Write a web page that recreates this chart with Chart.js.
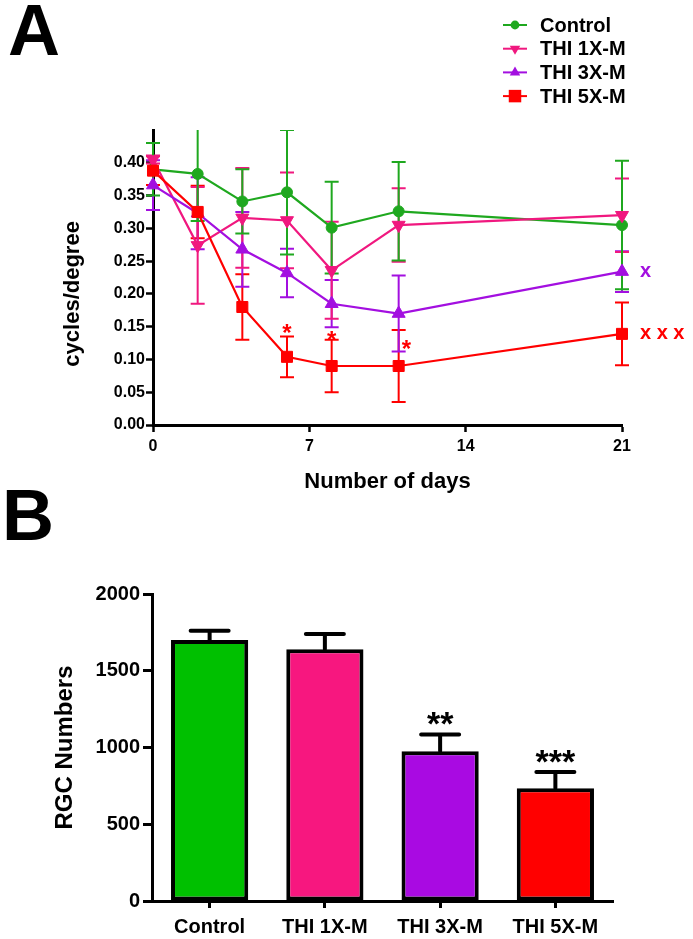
<!DOCTYPE html>
<html>
<head>
<meta charset="utf-8">
<script src="https://cdn.jsdelivr.net/npm/chart.js@4.4.1/dist/chart.umd.min.js"></script>
<style>
  body { margin: 0; background: #fff; width: 693px; height: 939px; position: relative; overflow: hidden; font-family: "Liberation Sans", Arial, sans-serif; }
  .panel { position: absolute; font-weight: bold; font-size: 72px; line-height: 1; color: #000; }
  #wrapA { position: absolute; left: 0; top: 0; width: 693px; height: 500px; }
  #wrapB { position: absolute; left: 0; top: 500px; width: 693px; height: 439px; }
</style>
</head>
<body>
<div id="wrapA"><canvas id="chartA" width="693" height="500"></canvas></div>
<div id="wrapB"><canvas id="chartB" width="693" height="439"></canvas></div>
<div class="panel" style="left:8px; top:-6px;">A</div>
<div class="panel" style="left:2px; top:479px;">B</div>
<script>
Chart.defaults.font.family = '"Liberation Sans", Arial, sans-serif';
Chart.defaults.color = '#000';

// painel A - acuidade visual por dia
const days = [0, 2, 4, 6, 8, 11, 21];
const groups = ['Control', 'THI 1X-M', 'THI 3X-M', 'THI 5X-M'];
const controlMean = [0.390, 0.383, 0.341, 0.355, 0.301, 0.326, 0.305];
const controlErr  = [0.040, 0.072, 0.049, 0.095, 0.070, 0.075, 0.098];
const thi1Mean = [0.405, 0.274, 0.316, 0.312, 0.236, 0.305, 0.320];
const thi1Err  = [0.006, 0.089, 0.076, 0.073, 0.074, 0.056, 0.056];
const thi3Mean = [0.366, 0.323, 0.268, 0.232, 0.185, 0.170, 0.234];
const thi3Err  = [0.038, 0.055, 0.057, 0.037, 0.036, 0.058, 0.031];
const thi5Mean = [0.388, 0.325, 0.180, 0.104, 0.090, 0.090, 0.139];
const thi5Err  = [0.022, 0.040, 0.050, 0.031, 0.040, 0.055, 0.048];
const yTicksA = [0, 0.05, 0.10, 0.15, 0.20, 0.25, 0.30, 0.35, 0.40];
const xTicksA = [0, 7, 14, 21];
// asteriscos vermelhos (dia, valor) e marcas no fim das linhas
const starsA = [[6, 0.149], [8, 0.139], [11.35, 0.125]];
const endMarks = ['', '', 'x', 'x x x'];

// painel B - contagem de RGC
const rgcMean = [1700, 1640, 975, 735];
const rgcErr  = [60, 100, 110, 105];
const rgcSig  = ['', '', '**', '***'];
const yTicksB = [0, 500, 1000, 1500, 2000];

const lineColors = ['#1fa81f', '#f0187f', '#a30fe0', '#ff0000'];
const barColors  = ['#00c000', '#f7177f', '#a90ae2', '#ff0000'];
const markers = [
  { style: 'circle', rot: 0, r: 5.5 },
  { style: 'triangle', rot: 180, r: 7.5 },
  { style: 'triangle', rot: 0, r: 7.5 },
  { style: 'rect', rot: 0, r: 7.8 }
];

const means = [controlMean, thi1Mean, thi3Mean, thi5Mean];
const errs = [controlErr, thi1Err, thi3Err, thi5Err];

function drawMarker(ctx, m, x, y, r, color) {
  ctx.fillStyle = color;
  ctx.beginPath();
  if (m.style === 'circle') {
    ctx.arc(x, y, r, 0, Math.PI * 2);
  } else if (m.style === 'rect') {
    ctx.rect(x - r, y - r, 2 * r, 2 * r);
  } else {
    const s = m.rot ? -1 : 1;
    ctx.moveTo(x, y - s * r);
    ctx.lineTo(x + r * 0.87, y + s * r * 0.5);
    ctx.lineTo(x - r * 0.87, y + s * r * 0.5);
    ctx.closePath();
  }
  ctx.fill();
}

// barras de erro do painel A
const errorBarsA = {
  id: 'errorBarsA',
  beforeDatasetsDraw(chart) {
    const { ctx, chartArea, scales: { x, y } } = chart;
    ctx.save();
    ctx.beginPath();
    ctx.rect(0, chartArea.top, chart.width, chartArea.bottom - chartArea.top + 2);
    ctx.clip();
    for (let i = chart.data.datasets.length - 1; i >= 0; i--) {
      const ds = chart.data.datasets[i];
      ctx.strokeStyle = ds.borderColor;
      ctx.lineWidth = 2;
      ds.data.forEach((pt, j) => {
        const px = x.getPixelForValue(pt.x);
        const top = y.getPixelForValue(pt.y + ds.errors[j]);
        const bot = y.getPixelForValue(pt.y - ds.errors[j]);
        ctx.beginPath();
        ctx.moveTo(px, top); ctx.lineTo(px, bot);
        ctx.moveTo(px - 7, top); ctx.lineTo(px + 7, top);
        ctx.moveTo(px - 7, bot); ctx.lineTo(px + 7, bot);
        ctx.stroke();
      });
    }
    ctx.restore();
  },
  afterDraw(chart) {
    const { ctx, scales: { x, y } } = chart;
    ctx.save();
    // titulo do eixo y centrado na faixa com ticks
    ctx.translate(73, (y.getPixelForValue(0) + y.getPixelForValue(0.40)) / 2);
    ctx.rotate(-Math.PI / 2);
    ctx.font = 'bold 22px "Liberation Sans", Arial, sans-serif';
    ctx.fillStyle = '#000';
    ctx.textAlign = 'center';
    ctx.textBaseline = 'middle';
    ctx.fillText('cycles/degree', 0, 0);
    ctx.restore();

    ctx.save();
    ctx.font = 'bold 24px "Liberation Sans", Arial, sans-serif';
    ctx.fillStyle = lineColors[3];
    ctx.textAlign = 'center';
    ctx.textBaseline = 'alphabetic';
    starsA.forEach(s => {
      ctx.fillText('*', x.getPixelForValue(s[0]), y.getPixelForValue(s[1]) + 0.575 * 24);
    });
    // marcas ao lado do ultimo ponto
    ctx.font = 'bold 20px "Liberation Sans", Arial, sans-serif';
    ctx.textAlign = 'left';
    endMarks.forEach((t, i) => {
      if (!t) return;
      const last = days.length - 1;
      ctx.fillStyle = lineColors[i];
      ctx.fillText(t, x.getPixelForValue(days[last]) + 18, y.getPixelForValue(means[i][last]) + 5);
    });
    ctx.restore();

    // legenda
    ctx.save();
    groups.forEach((g, i) => {
      const cy = 25 + i * 23.7;
      ctx.strokeStyle = lineColors[i];
      ctx.lineWidth = 2;
      ctx.beginPath();
      ctx.moveTo(503, cy); ctx.lineTo(527, cy);
      ctx.stroke();
      drawMarker(ctx, markers[i], 515, cy, markers[i].r * 0.8, lineColors[i]);
      ctx.fillStyle = '#000';
      ctx.font = 'bold 20px "Liberation Sans", Arial, sans-serif';
      ctx.textAlign = 'left';
      ctx.textBaseline = 'middle';
      ctx.fillText(g, 540, cy + 1);
    });
    ctx.restore();
  }
};

const datasetsA = groups.map((g, i) => ({
  label: g,
  data: days.map((d, j) => ({ x: d, y: means[i][j] })),
  errors: errs[i],
  borderColor: lineColors[i],
  backgroundColor: lineColors[i],
  borderWidth: 2.2,
  pointStyle: markers[i].style,
  pointRotation: markers[i].rot,
  pointRadius: markers[i].r,
  pointBorderWidth: 1,
  tension: 0,
  clip: false,
  order: 3 - i
}));

new Chart(document.getElementById('chartA'), {
  type: 'line',
  data: { datasets: datasetsA },
  options: {
    responsive: false,
    animation: false,
    layout: { padding: { top: 130, right: 71, left: 0, bottom: 0 } },
    plugins: { legend: { display: false }, tooltip: { enabled: false } },
    scales: {
      x: {
        type: 'linear', min: 0, max: 21,
        afterBuildTicks: s => { s.ticks = xTicksA.map(v => ({ value: v })); },
        afterFit: s => { s.height = 75; },
        grid: { drawOnChartArea: false, tickLength: 7, tickColor: '#000', tickWidth: 2.5 },
        border: { color: '#000', width: 3 },
        ticks: { font: { size: 16, weight: 'bold' }, padding: 5, maxRotation: 0, callback: v => String(v) },
        title: { display: true, text: 'Number of days', font: { size: 22, weight: 'bold' }, padding: { top: 0, bottom: 5 } }
      },
      y: {
        min: 0, max: 0.45,
        afterBuildTicks: s => { s.ticks = yTicksA.map(v => ({ value: v })); },
        afterFit: s => { s.width = 153; },
        grid: { drawOnChartArea: false, tickLength: 7, tickColor: '#000', tickWidth: 2.5 },
        border: { color: '#000', width: 3 },
        ticks: { font: { size: 16, weight: 'bold' }, padding: 1, callback: v => v.toFixed(2) }
      }
    }
  },
  plugins: [errorBarsA]
});

// barras de erro e asteriscos do painel B
const errorBarsB = {
  id: 'errorBarsB',
  afterDatasetsDraw(chart) {
    const { ctx, scales: { x, y } } = chart;
    ctx.save();
    ctx.strokeStyle = '#000';
    ctx.lineWidth = 4;
    ctx.lineCap = 'round';
    rgcMean.forEach((m, i) => {
      const px = x.getPixelForValue(i);
      const top = y.getPixelForValue(m + rgcErr[i]);
      ctx.beginPath();
      ctx.moveTo(px, y.getPixelForValue(m));
      ctx.lineTo(px, top);
      ctx.moveTo(px - 19, top); ctx.lineTo(px + 19, top);
      ctx.stroke();
      if (rgcSig[i]) {
        ctx.fillStyle = '#000';
        ctx.font = 'bold 34px "Liberation Sans", Arial, sans-serif';
        ctx.textAlign = 'center';
        ctx.textBaseline = 'alphabetic';
        ctx.fillText(rgcSig[i], px, top + 1);
      }
    });
    ctx.restore();
  }
};

new Chart(document.getElementById('chartB'), {
  type: 'bar',
  data: {
    labels: groups,
    datasets: [{
      data: rgcMean,
      backgroundColor: barColors,
      borderColor: '#000',
      borderWidth: 4,
      borderSkipped: false,
      categoryPercentage: 1,
      barPercentage: 0.67
    }]
  },
  options: {
    responsive: false,
    animation: false,
    layout: { padding: { top: 94, right: 80, left: 0, bottom: 0 } },
    plugins: { legend: { display: false }, tooltip: { enabled: false } },
    scales: {
      x: {
        afterFit: s => { s.height = 38; },
        grid: { drawOnChartArea: false, offset: false, tickLength: 7, tickColor: '#000', tickWidth: 3 },
        border: { color: '#000', width: 3 },
        ticks: { font: { size: 20, weight: 'bold' }, padding: 7, maxRotation: 0, autoSkip: false }
      },
      y: {
        min: 0, max: 2000,
        afterBuildTicks: s => { s.ticks = yTicksB.map(v => ({ value: v })); },
        afterFit: s => { s.width = 152; },
        grid: { drawOnChartArea: false, tickLength: 9, tickColor: '#000', tickWidth: 3 },
        border: { color: '#000', width: 3 },
        ticks: { font: { size: 20, weight: 'bold' }, padding: 3, callback: v => String(v) },
        title: { display: true, text: 'RGC Numbers', font: { size: 24, weight: 'bold' }, padding: { top: 51, bottom: 0 } }
      }
    }
  },
  plugins: [errorBarsB]
});
</script>
</body>
</html>
